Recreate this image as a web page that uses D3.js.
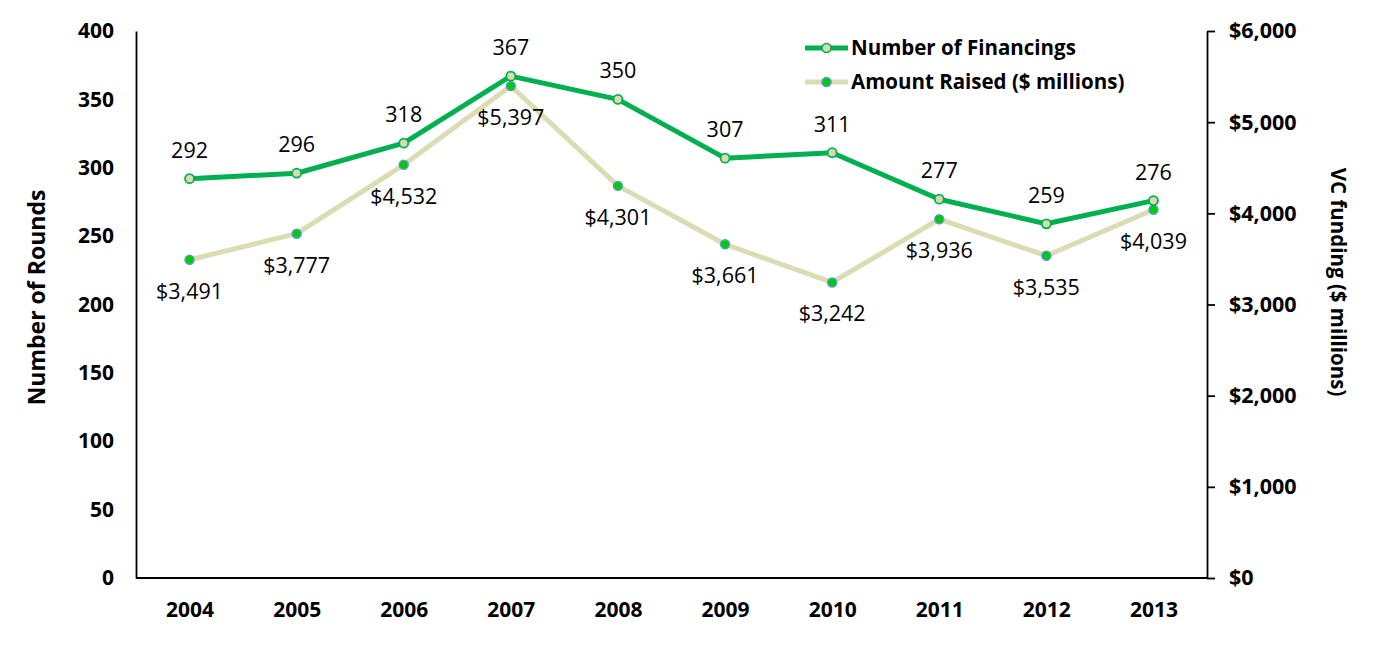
<!DOCTYPE html>
<html>
<head>
<meta charset="utf-8">
<script src="https://cdn.jsdelivr.net/npm/d3@7"></script>
<style>
  html, body { margin: 0; padding: 0; background: #fff; }
  svg { display: block; font-family: "Open Sans", sans-serif; }
</style>
</head>
<body>
<svg id="chart" width="1377" height="655"></svg>
<script>
const years = ["2004","2005","2006","2007","2008","2009","2010","2011","2012","2013"];
const financings = [292,296,318,367,350,307,311,277,259,276];
const amountRaised = [3491,3777,4532,5397,4301,3661,3242,3936,3535,4039];
const leftTicks = [0,50,100,150,200,250,300,350,400];
const rightTicks = [0,1000,2000,3000,4000,5000,6000];
const seriesNames = ["Number of Financings","Amount Raised ($ millions)"];
const axisTitles = ["Number of Rounds","VC funding ($ millions)"];

const W = 1377, H = 655;
const m = {left:136, right:170, top:31, bottom:77};
const FONT = "'Open Sans', sans-serif";
const svg = d3.select("#chart");

const x = d3.scalePoint().domain(years).range([m.left, W - m.right]).padding(0.5);
const yL = d3.scaleLinear().domain([0,400]).range([H - m.bottom, m.top]);
const yR = d3.scaleLinear().domain([0,6000]).range([H - m.bottom, m.top]);

const GREEN = "#00B050", TAN = "#DCDCB4", MFILL = "#DDD9AE", DOT = "#00CC00", DOTSTROKE = "#5B9BD5";

// Left axis
const gL = svg.append("g").attr("transform", `translate(${m.left},0)`)
  .call(d3.axisLeft(yL).tickValues(leftTicks).tickSize(0).tickPadding(22));
gL.select(".domain").attr("stroke","#000").attr("stroke-width",1.8);
gL.selectAll("text").attr("font-size",21).attr("font-weight","bold").attr("fill","#000")
  .attr("font-family",FONT);

// Right axis
const gR = svg.append("g").attr("transform", `translate(${W - m.right},0)`)
  .call(d3.axisRight(yR).tickValues(rightTicks).tickSizeInner(8).tickSizeOuter(0).tickPadding(14)
    .tickFormat(d => "$" + d3.format(",")(d)));
gR.select(".domain").attr("stroke","#000").attr("stroke-width",1.8);
gR.selectAll("line").attr("stroke","#000").attr("stroke-width",1.8);
gR.selectAll("text").attr("font-size",21.5).attr("font-weight","bold").attr("fill","#000")
  .attr("font-family",FONT);

// Bottom axis
const gB = svg.append("g").attr("transform", `translate(0,${H - m.bottom})`)
  .call(d3.axisBottom(x).tickSize(0).tickPadding(24));
gB.select(".domain").attr("stroke","#000").attr("stroke-width",1.8)
  .attr("d", `M${m.left},0H${W - m.right}`);
gB.selectAll("text").attr("font-size",21).attr("font-weight","bold").attr("fill","#000")
  .attr("font-family",FONT);

// Axis titles
svg.append("text").attr("transform", `translate(45,297.5) rotate(-90)`)
  .attr("text-anchor","middle").attr("font-size",23).attr("font-weight","bold").text(axisTitles[0]);
svg.append("text").attr("transform", `translate(1331,282) rotate(90)`)
  .attr("text-anchor","middle").attr("font-size",20.5).attr("font-weight","bold").text(axisTitles[1]);

// Amount line (drawn first, under)
const lineA = d3.line().x((d,i) => x(years[i])).y(d => yR(d));
svg.append("path").datum(amountRaised).attr("d", lineA)
  .attr("fill","none").attr("stroke",TAN).attr("stroke-width",5).attr("stroke-linejoin","round");

// Financings line
const lineF = d3.line().x((d,i) => x(years[i])).y(d => yL(d));
svg.append("path").datum(financings).attr("d", lineF)
  .attr("fill","none").attr("stroke",GREEN).attr("stroke-width",5).attr("stroke-linejoin","round");

// Markers
svg.append("g").selectAll("circle").data(amountRaised).join("circle")
  .attr("cx",(d,i)=>x(years[i])).attr("cy",d=>yR(d)).attr("r",4.5)
  .attr("fill",DOT).attr("stroke",DOTSTROKE).attr("stroke-width",1.5);
svg.append("g").selectAll("circle").data(financings).join("circle")
  .attr("cx",(d,i)=>x(years[i])).attr("cy",d=>yL(d)).attr("r",4.5)
  .attr("fill",MFILL).attr("stroke",GREEN).attr("stroke-width",1.8);

// Data labels
svg.append("g").selectAll("text").data(financings).join("text")
  .attr("x",(d,i)=>x(years[i])).attr("y",d=>yL(d) - 21)
  .attr("text-anchor","middle").attr("font-size",21.5).attr("fill","#000").text(d=>d);
svg.append("g").selectAll("text").data(amountRaised).join("text")
  .attr("x",(d,i)=>x(years[i])).attr("y",d=>yR(d) + 39)
  .attr("text-anchor","middle").attr("font-size",21.5).attr("fill","#000")
  .text(d=>"$" + d3.format(",")(d));

// Legend
const lg = svg.append("g");
const legendItems = [
  {name: seriesNames[0], stroke: GREEN, fill: MFILL, ms: GREEN, y: 48},
  {name: seriesNames[1], stroke: TAN, fill: DOT, ms: DOTSTROKE, y: 82}
];
legendItems.forEach(it => {
  lg.append("line").attr("x1",805).attr("x2",848).attr("y1",it.y).attr("y2",it.y)
    .attr("stroke",it.stroke).attr("stroke-width",5);
  lg.append("circle").attr("cx",826.5).attr("cy",it.y).attr("r",4.5)
    .attr("fill",it.fill).attr("stroke",it.ms).attr("stroke-width",1.6);
  lg.append("text").attr("x",851).attr("y",it.y).attr("dy","0.35em")
    .attr("font-size",20.5).attr("font-weight","bold").attr("fill","#000").text(it.name);
});
</script>
</body>
</html>
